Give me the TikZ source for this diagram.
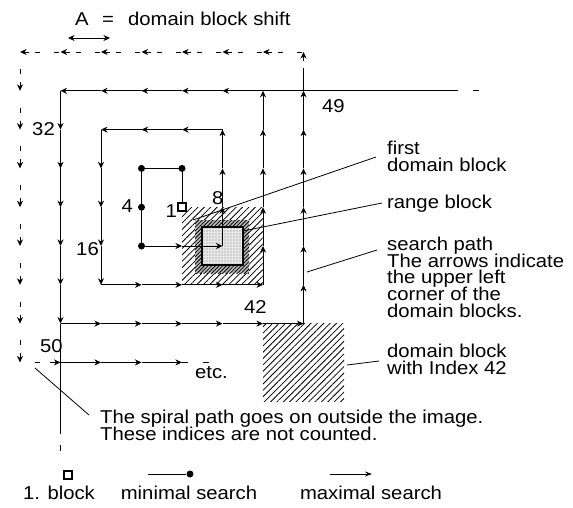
\documentclass[tikz,border=0pt]{standalone}
\usepackage{fontspec}
\setmainfont{Liberation Sans}[FakeStretch=1.09]
\usetikzlibrary{arrows.meta,patterns.meta,calc}
\lineskiplimit=-100pt
\begin{document}
\begin{tikzpicture}[x=1pt,y=-1pt,
  every node/.style={inner sep=0pt, font=\fontsize{18.6}{16.8}\selectfont},
  ln/.style={line width=1pt},
  arr/.style={line width=1pt,-{Stealth[length=6.5pt,width=6pt,inset=2pt]}},
  dbl/.style={line width=1pt,{Stealth[length=6.5pt,width=6pt,inset=2pt]}-{Stealth[length=6.5pt,width=6pt,inset=2pt]}},
  thinarr/.style={line width=0.9pt,-{Stealth[length=7pt,width=5pt,inset=2.5pt]}},
  hatch/.style={pattern={Lines[angle=45,distance=4.5pt,line width=0.8pt]}},
  dense/.style={pattern={Lines[angle=45,distance=2.6pt,line width=0.8pt]}},
  dotnode/.style={circle, fill=black, minimum size=7pt, inner sep=0pt},
  blk/.style={draw, line width=1.6pt, fill=white, minimum size=8pt, inner sep=0pt},
  lbl/.style={anchor=base west, align=left},
  ptr/.style={line width=0.8pt}
]
\useasboundingbox (0,0) rectangle (573,507);
\foreach \i in {0,...,8}{
  \foreach \j in {0,...,9}{
    \pgfmathsetmacro\px{20+40.5*\i}
    \pgfmathsetmacro\py{52+38.8*\j}
    \coordinate (p\i\j) at (\px,\py);
  }
}

% hatched blocks
\fill[hatch] (p44) rectangle (p66);
\coordinate (gA) at (195,220); \coordinate (gB) at (249,273);
\fill[gray!55] (gA) rectangle (gB);
\fill[dense] (gA) rectangle (gB);
\coordinate (rA) at ($(p44)!0.25!(p66)$); \coordinate (rB) at ($(p44)!0.75!(p66)$);
\fill[gray!18] (rA) rectangle (rB);
\fill[pattern={Dots[distance=3pt,radius=0.55pt]},pattern color=gray] (rA) rectangle (rB);
\draw[line width=2pt] (rA) rectangle (rB);
\fill[hatch] (p67) rectangle (p89);

% minimal search
\draw[ln] (p44) -- (p43) -- (p33) -- (p35);
\foreach \c in {43,33,34,35} \node[dotnode] (d\c) at (p\c) {};

% maximal search (spiral)
\foreach \a/\b in {35/45,45/55,55/54,54/53,53/52,52/42,42/32,32/22,22/23,23/24,24/25,25/26,
  26/36,36/46,46/56,56/66,66/65,65/64,64/63,63/62,62/61,61/51,51/41,41/31,31/21,21/11,
  11/12,12/13,13/14,14/15,15/16,16/17,17/27,27/37,37/47,47/57,57/67,67/77,
  77/76,76/75,75/74,74/73,73/72,72/71}
  \draw[arr] (p\a) -- (p\b);
\node[blk] (b1) at (p44) {};

% image border
\draw[ln] (p61) -- ++(195,0) coordinate (e1);
\draw[ln] ($(e1)+(15,0)$) -- ++(6,0);
\draw[ln] (p17) -- ++(0,110) coordinate (e2);
\draw[ln] ($(e2)+(0,11)$) -- ++(0,6);

% outside part
\draw[ln] (p71) -- ($(p71)!0.6!(p70)$);
\draw[arr] ($(p70)+(0,9)$) -- (p70);
\foreach \i in {0,...,6}{
  \draw[arr] ($(p\i0)+(9,0)$) -- (p\i0);
  \draw[ln] ($(p\i0)+(15,0)$) -- ++(5,0);
  \draw[ln] ($(p\i0)+(34,0)$) -- ++(5,0);
}
\foreach \j in {1,...,8}{
  \draw[arr] ($(p0\j)+(0,-9)$) -- (p0\j);
  \draw[ln] ($(p0\j)+(0,-22)$) -- ++(0,5);
}
\draw[ln] ($(p08)+(15,0)$) -- ++(5,0);
\draw[ln] ($(p08)+(30,0)$) -- ++(5,0);
\draw[arr] ($(p18)+(-9,0)$) -- (p18);
\foreach \a/\b in {18/28,28/38,38/48} \draw[arr] (p\a) -- (p\b);
\draw[ln] (p48) -- ++(6,0);
\draw[ln] ($(p48)+(21,0)$) -- ++(6,0);

% numbers
\node[anchor=base east] (n32) at (55,135) {32};
\node[anchor=base east] (n16) at (99,255) {16};
\node[anchor=base east] (n4) at (133,212) {4};
\node[anchor=base east] (n1) at (177,217) {1};
\node[anchor=base west] (n8) at (212,204) {8};
\node[anchor=base west] (n42) at (244,313) {42};
\node[anchor=base west] (n49) at (322,112) {49};
\node[anchor=base west] (n50) at (40,352) {50};
\node[anchor=base west] (etc) at (195,378) {etc.};

% title
\node[anchor=base west] (tA) at (75,25) {A};
\node[anchor=base west] (tEq) at (102,25) {=};
\node[anchor=base west] (tD) at (128,25) {domain block shift};
\coordinate (s1) at (68,38); \coordinate (s2) at (110,38);
\draw[dbl] (s1) -- (s2);

% right labels (anchor = baseline of the last line)
\node[lbl] (first) at (387,171.5) {first\\domain block};
\node[lbl] (range) at (387,208) {range block};
\node[lbl] (search) at (387,317.5) {search path\\The arrows indicate\\the upper left\\corner of the\\domain blocks.};
\node[lbl] (d42) at (387,374) {domain block\\with Index 42};
\node[lbl] (spiral) at (100,440) {The spiral path goes on outside the image.\\These indices are not counted.};

\coordinate (q1a) at (376,157); \coordinate (q1b) at (193,220);
\coordinate (q2a) at (382,203); \coordinate (q2b) at (243,231);
\coordinate (q3a) at (377,250); \coordinate (q3b) at (307,272);
\coordinate (q4a) at (379,361); \coordinate (q4b) at (347,365);
\coordinate (q5a) at (89,415); \coordinate (q5b) at (35,368);
\draw[ptr] (q1a) -- (q1b);
\draw[ptr] (q2a) -- (q2b);
\draw[ptr] (q3a) -- (q3b);
\draw[ptr] (q4a) -- (q4b);
\draw[ptr] (q5a) -- (q5b);

% legend
\node[blk] (lg1) at (68,475) {};
\node[anchor=base] (lt1) at (59,499) {1. block};
\coordinate (lm1) at (148,474);
\node[dotnode] (lm2) at (190,474) {};
\draw[ln] (lm1) -- (lm2);
\node[anchor=base] (lt2) at (189,499) {minimal search};
\coordinate (lx1) at (330,474); \coordinate (lx2) at (372,474);
\draw[thinarr] (lx1) -- (lx2);
\node[anchor=base] (lt3) at (371,499) {maximal search};
\end{tikzpicture}
\end{document}
